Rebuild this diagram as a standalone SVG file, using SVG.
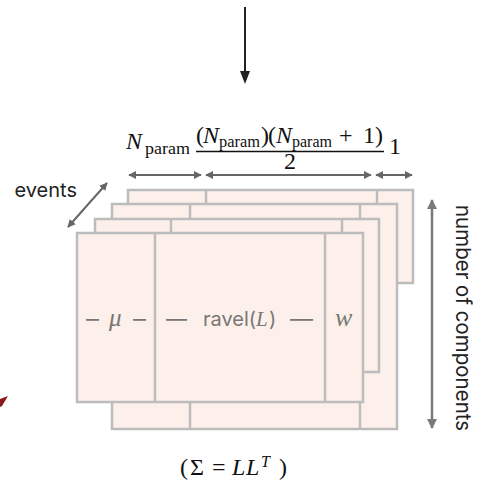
<svg xmlns="http://www.w3.org/2000/svg" width="477" height="483" viewBox="0 0 477 483">
<defs>
<marker id="hg" viewBox="0 0 10 10" refX="9" refY="5" markerWidth="4" markerHeight="4" orient="auto-start-reverse" markerUnits="strokeWidth"><path d="M0,0 L10,5 L0,10 z" fill="#666"/></marker>
<marker id="hv" viewBox="0 0 10 10" refX="9" refY="5" markerWidth="4" markerHeight="4" orient="auto-start-reverse" markerUnits="strokeWidth"><path d="M0,0 L10,5 L0,10 z" fill="#7a7a7a"/></marker>
</defs>
<style>
.lay{fill:#fdf0ea;stroke:#bcbcbc;stroke-width:2.5}
.div{stroke:#bcbcbc;stroke-width:2.5}
.m{font-family:"Liberation Serif",serif;fill:#111}
.mi{font-family:"Liberation Serif",serif;font-style:italic;fill:#111}
.s{font-family:Inter,"Liberation Sans",sans-serif;fill:#222}
.g{font-family:Inter,"Liberation Sans",sans-serif;fill:#777;font-size:20px}
.gi{font-family:"Liberation Serif",serif;font-style:italic;fill:#777}
</style>
<g id="layer1">
<rect class="lay" x="128" y="190" width="285" height="93"/>
<line class="div" x1="206" y1="190" x2="206" y2="283"/>
<line class="div" x1="377" y1="190" x2="377" y2="283"/>
</g>
<g id="layer2">
<rect class="lay" x="112" y="204" width="285" height="225"/>
<line class="div" x1="190" y1="204" x2="190" y2="429"/>
<line class="div" x1="360" y1="204" x2="360" y2="429"/>
</g>
<g id="layer3">
<rect class="lay" x="95" y="219" width="284" height="153"/>
<line class="div" x1="171" y1="219" x2="171" y2="372"/>
<line class="div" x1="342" y1="219" x2="342" y2="372"/>
</g>
<g id="layer4">
<rect class="lay" x="77" y="233" width="286" height="169"/>
<line class="div" x1="155" y1="233" x2="155" y2="402"/>
<line class="div" x1="325" y1="233" x2="325" y2="402"/>
<text class="g" x="86" y="326" textLength="13" lengthAdjust="spacingAndGlyphs">–</text>
<text class="gi" x="109" y="326" font-size="25">μ</text>
<text class="g" x="133" y="326" textLength="13" lengthAdjust="spacingAndGlyphs">–</text>
<text class="g" x="166" y="326" textLength="21" lengthAdjust="spacingAndGlyphs">—</text>
<text class="g" x="203" y="326">ravel(</text>
<text class="gi" x="256" y="326" font-size="21">L</text>
<text class="g" x="269" y="326">)</text>
<text class="g" x="290" y="326" textLength="23" lengthAdjust="spacingAndGlyphs">—</text>
<text class="gi" x="335" y="326" font-size="26">w</text>
</g>
<g id="connectors">
<line x1="245" y1="7" x2="245" y2="72" stroke="#222" stroke-width="2"/>
<path d="M240,71 L250,71 L245,84 z" fill="#222"/>
<line x1="129" y1="175" x2="201" y2="175" stroke="#666" stroke-width="2" marker-start="url(#hg)" marker-end="url(#hg)"/>
<line x1="206" y1="175" x2="371" y2="175" stroke="#666" stroke-width="2" marker-start="url(#hg)" marker-end="url(#hg)"/>
<line x1="376" y1="175" x2="412" y2="175" stroke="#666" stroke-width="2" marker-start="url(#hg)" marker-end="url(#hg)"/>
<line x1="68" y1="227" x2="107" y2="183" stroke="#666" stroke-width="2" marker-start="url(#hg)" marker-end="url(#hg)"/>
<line x1="432" y1="200" x2="432" y2="428" stroke="#7a7a7a" stroke-width="2.5" marker-start="url(#hv)" marker-end="url(#hv)"/>
<path d="M0,399 L8,396 L2,406 L0,407 z" fill="#8b1a1a"/>
</g>
<g id="labels">
<text class="s" x="77" y="197" font-size="20" text-anchor="end">events</text>
<text class="s" x="0" y="0" font-size="20.5" text-anchor="middle" transform="translate(456,318) rotate(90)">number of components</text>
<text class="mi" x="126" y="149" font-size="24">N</text>
<text class="m" x="145" y="154" font-size="16" textLength="45" lengthAdjust="spacingAndGlyphs">param</text>
<text class="m" x="196" y="143" font-size="24">(</text>
<text class="mi" x="203" y="143" font-size="24">N</text>
<text class="m" x="219" y="147" font-size="16" textLength="41" lengthAdjust="spacingAndGlyphs">param</text>
<text class="m" x="261" y="143" font-size="24">)</text>
<text class="m" x="268" y="143" font-size="24">(</text>
<text class="mi" x="276" y="143" font-size="24">N</text>
<text class="m" x="292" y="147" font-size="16" textLength="40" lengthAdjust="spacingAndGlyphs">param</text>
<text class="m" x="339" y="143" font-size="24">+</text>
<text class="m" x="363" y="143" font-size="24">1)</text>
<line x1="196" y1="151.5" x2="384" y2="151.5" stroke="#111" stroke-width="1.3"/>
<text class="m" x="290" y="169" font-size="24" text-anchor="middle">2</text>
<text class="m" x="389" y="154" font-size="24">1</text>
<text class="m" x="180" y="475" font-size="24">(</text>
<text class="m" x="190" y="475" font-size="24">Σ</text>
<text class="m" x="212" y="475" font-size="24">=</text>
<text class="mi" x="232" y="475" font-size="24">L</text>
<text class="mi" x="246" y="475" font-size="24">L</text>
<text class="mi" x="261" y="467" font-size="16">T</text>
<text class="m" x="279" y="475" font-size="24">)</text>
</g>
</svg>
